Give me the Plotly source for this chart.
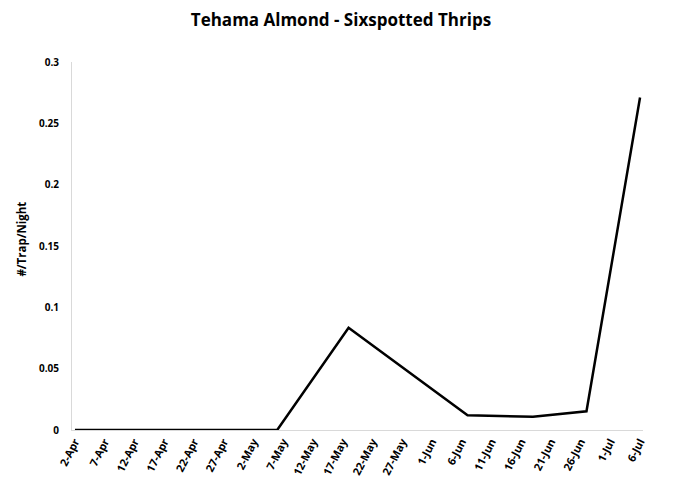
import pandas as pd
import plotly.graph_objects as go

# Data
dates = ["2019-04-02", "2019-04-09", "2019-04-16", "2019-04-23", "2019-04-30", "2019-05-06",
         "2019-05-18", "2019-06-07", "2019-06-18", "2019-06-27", "2019-07-06"]
values = [0, 0, 0, 0, 0, 0, 0.0834, 0.0121, 0.0108, 0.0153, 0.271]

tick_dates = pd.date_range("2019-04-02", "2019-07-06", freq="5D")
tick_labels = [f"{d.day}-{d.strftime('%b')}" for d in tick_dates]
y_ticks = [0, 0.05, 0.1, 0.15, 0.2, 0.25, 0.3]
y_labels = ["0", "0.05", "0.1", "0.15", "0.2", "0.25", "0.3"]
y_title = "#/Trap/Night"

half_day = pd.Timedelta(hours=12)

fig = go.Figure()
fig.add_trace(go.Scatter(
    x=pd.to_datetime(dates), y=values, mode="lines",
    line=dict(color="black", width=2.5), cliponaxis=False, showlegend=False,
))

font_family = "Open Sans, Lato, sans-serif"
fig.update_layout(
    width=674, height=486,
    paper_bgcolor="white", plot_bgcolor="white",
    margin=dict(l=64, r=39, t=54, b=64),
    title=dict(text="Tehama Almond - Sixspotted Thrips", x=0.494, xanchor="center",
               xref="container", y=0.975, yanchor="middle", yref="container",
               font=dict(family=font_family, size=17, color="black", weight="bold")),
    xaxis=dict(
        range=[tick_dates[0] - half_day, tick_dates[-1] + half_day],
        tickvals=tick_dates, ticktext=tick_labels, tickangle=-63,
        tickfont=dict(family=font_family, size=11, color="black", weight="bold"),
        showgrid=False, zeroline=False, showline=True, linecolor="#d9d9d9", linewidth=1,
        ticks="",
    ),
    yaxis=dict(
        range=[0, 0.3], tickvals=y_ticks, ticktext=y_labels,
        tickfont=dict(family=font_family, size=10, color="black", weight="bold"),
        showgrid=False, zeroline=False, showline=True, linecolor="#d9d9d9", linewidth=1,
        ticks="", ticklabelstandoff=10,
    ),
    annotations=[dict(
        text=y_title, textangle=-90, xref="paper", yref="paper",
        x=-0.0876, y=0.52, xanchor="center", yanchor="middle", showarrow=False,
        font=dict(family=font_family, size=11.5, color="black", weight="bold"),
    )],
)

fig.write_html("out.html")
